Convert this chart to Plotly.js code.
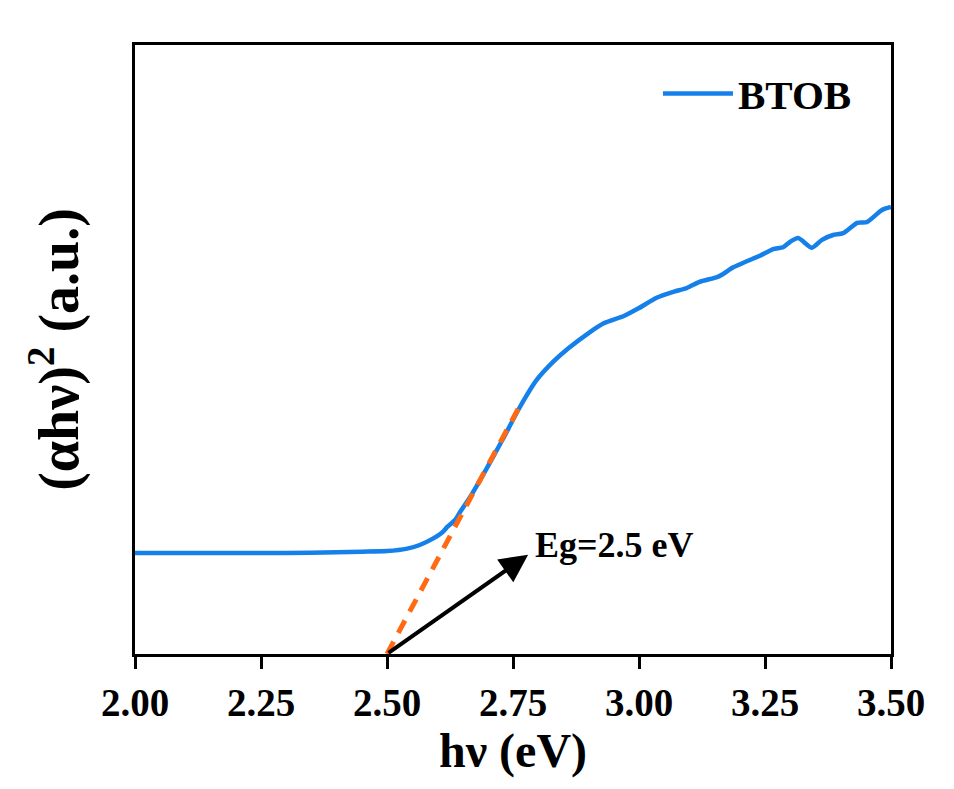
<!DOCTYPE html>
<html>
<head>
<meta charset="utf-8">
<script src="https://cdn.plot.ly/plotly-3.0.1.min.js"></script>
<style>html,body{margin:0;padding:0;background:#fff;}#chart{width:954px;height:789px;}</style>
</head>
<body>
<div id="chart"></div>
<script>
// Photon energy (eV) and (αhν)^2 (arbitrary units)
const energy = [2.00, 2.10, 2.20, 2.30, 2.40, 2.45, 2.50, 2.54, 2.565, 2.59, 2.61, 2.62, 2.635, 2.645, 2.665, 2.685, 2.71, 2.73, 2.764, 2.797, 2.83, 2.86, 2.90, 2.93, 2.97, 3.00, 3.035, 3.07, 3.095, 3.12, 3.155, 3.167, 3.187, 3.214, 3.24, 3.266, 3.286, 3.30, 3.316, 3.343, 3.363, 3.385, 3.405, 3.433, 3.452, 3.482, 3.50];
const absorb2 = [16.6, 16.6, 16.6, 16.6, 16.7, 16.8, 16.9, 17.3, 17.9, 18.9, 20.0, 20.9, 22.0, 23.3, 25.8, 28.6, 32.3, 35.3, 40.6, 45.0, 48.0, 50.2, 52.7, 54.3, 55.5, 56.8, 58.5, 59.5, 60.1, 61.1, 61.9, 62.4, 63.5, 64.5, 65.4, 66.5, 66.8, 67.7, 68.3, 66.7, 68.0, 68.8, 69.1, 70.8, 70.9, 72.9, 73.4];
// Tangent (Tauc) fit line
const fitX = [2.50, 2.765];
const fitY = [0, 41.0];
// Arrow pointing to band-gap label
const arrowFrom = [2.50, 0];
const arrowTo = [2.78, 16.3];
const xTicks = [2.00, 2.25, 2.50, 2.75, 3.00, 3.25, 3.50];
const xTickText = ['2.00', '2.25', '2.50', '2.75', '3.00', '3.25', '3.50'];
const seriesName = 'BTOB';
const labelText = 'Eg=2.5 eV';

const serif = 'Liberation Serif, Times New Roman, serif';

const traces = [
  {x: energy, y: absorb2, type: 'scatter', mode: 'lines', name: seriesName,
   line: {color: '#1580EA', width: 4.5, shape: 'spline', smoothing: 0.6}, showlegend: true},
  {x: fitX, y: fitY, type: 'scatter', mode: 'lines', showlegend: false,
   line: {color: '#FF6A13', width: 5, dash: '14px,10px'}}
];

const layout = {
  width: 954, height: 789,
  paper_bgcolor: '#ffffff', plot_bgcolor: '#ffffff',
  margin: {l: 135, r: 63, t: 45, b: 135},
  font: {family: serif, color: '#000'},
  xaxis: {
    range: [2.0, 3.5], tickvals: xTicks, ticktext: xTickText,
    ticks: 'outside', ticklen: 12, tickwidth: 3, tickcolor: '#000',
    showline: true, linewidth: 3, linecolor: '#000', mirror: true,
    showgrid: false, zeroline: false,
    tickfont: {family: serif, size: 39, weight: 'bold', color: '#000'},
    title: {text: '<b>hν (eV)</b>', font: {family: serif, size: 48, color: '#000'}, standoff: 4}
  },
  yaxis: {
    range: [0, 100], showticklabels: false, ticks: '',
    showline: true, linewidth: 3, linecolor: '#000', mirror: true,
    showgrid: false, zeroline: false,
    title: {text: '<b>(αhν)<sup>2</sup> (a.u.)</b>', font: {family: serif, size: 56, color: '#000'}, standoff: 36}
  },
  legend: {
    x: 0.955, y: 0.975, xanchor: 'right', yanchor: 'top',
    bgcolor: 'rgba(0,0,0,0)', borderwidth: 0, itemwidth: 70,
    font: {family: serif, size: 41, weight: 'bold', color: '#000'}
  },
  annotations: [
    {x: arrowTo[0], y: arrowTo[1], ax: arrowFrom[0], ay: arrowFrom[1],
     xref: 'x', yref: 'y', axref: 'x', ayref: 'y', text: '',
     showarrow: true, arrowhead: 2, arrowsize: 1.4, arrowwidth: 4, arrowcolor: '#000', standoff: 0},
    {x: 2.79, y: 17.9, xref: 'x', yref: 'y', text: '<b>' + labelText + '</b>',
     showarrow: false, xanchor: 'left', yanchor: 'middle',
     font: {family: serif, size: 36, color: '#000'}}
  ]
};

Plotly.newPlot('chart', traces, layout, {displayModeBar: false, staticPlot: true});
</script>
</body>
</html>
